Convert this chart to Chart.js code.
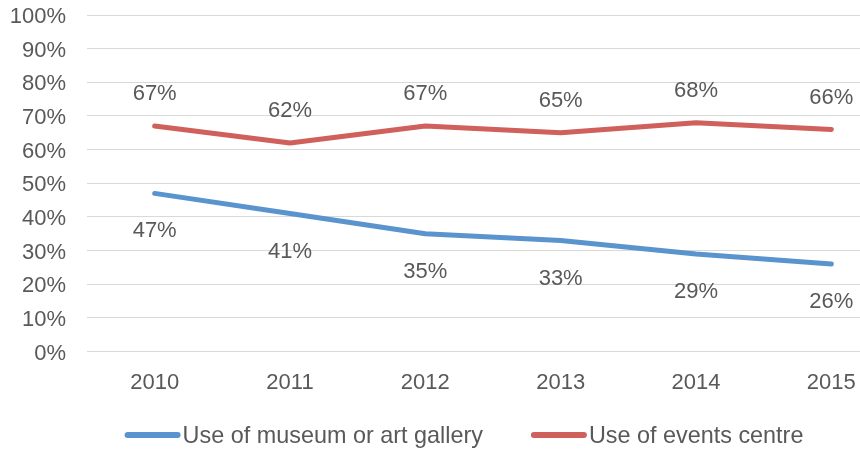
<!DOCTYPE html>
<html>
<head>
<meta charset="utf-8">
<script src="https://cdn.jsdelivr.net/npm/chart.js@4/dist/chart.umd.min.js"></script>
<style>
  html, body { margin: 0; padding: 0; background: #ffffff; overflow: hidden; }
  #wrap { width: 860px; height: 453px; overflow: hidden; position: relative; }
  #box { width: 930px; height: 453px; position: absolute; left: 0; top: 0; }
</style>
</head>
<body>
<div id="wrap"><div id="box"><canvas id="chart"></canvas></div></div>
<script>
const years = ['2010', '2011', '2012', '2013', '2014', '2015'];
const museumUse = [47, 41, 35, 33, 29, 26];
const eventsUse = [67, 62, 67, 65, 68, 66];
const seriesNames = ['Use of museum or art gallery', 'Use of events centre'];
const yTicks = [0, 10, 20, 30, 40, 50, 60, 70, 80, 90, 100];

const FONT = '"Liberation Sans", Arial, Helvetica, sans-serif';
const TEXT = '#595959';
const BLUE = '#5a94ce';
const RED = '#cf605b';

// Percentage labels: above the red line, below the blue one
const valueLabels = {
  id: 'valueLabels',
  afterDatasetsDraw(chart) {
    const ctx = chart.ctx;
    ctx.save();
    ctx.font = '22px ' + FONT;
    ctx.fillStyle = TEXT;
    ctx.textAlign = 'center';
    ctx.textBaseline = 'middle';
    chart.data.datasets.forEach((ds, i) => {
      const meta = chart.getDatasetMeta(i);
      meta.data.forEach((pt, j) => {
        ctx.fillText(ds.data[j] + '%', pt.x, pt.y + ds.labelOffset);
      });
    });
    ctx.restore();
  }
};

// Legend: short thick line swatch followed closely by the series name
const lineLegend = {
  id: 'lineLegend',
  afterDraw(chart) {
    const ctx = chart.ctx;
    ctx.save();
    ctx.font = '23.4px ' + FONT;
    const swatch = 56, gap = 2, itemGap = 48;
    const items = chart.data.datasets.map(ds => ({
      label: ds.label, color: ds.borderColor, w: ctx.measureText(ds.label).width
    }));
    const total = items.reduce((s, it) => s + swatch + gap + it.w, 0) + itemGap * (items.length - 1);
    let x = chart.width / 2 - 1 - total / 2;
    const y = 437;
    items.forEach(it => {
      ctx.strokeStyle = it.color;
      ctx.lineWidth = 6;
      ctx.lineCap = 'round';
      ctx.beginPath();
      ctx.moveTo(x + 3, y - 2);
      ctx.lineTo(x + swatch - 3, y - 2);
      ctx.stroke();
      ctx.fillStyle = TEXT;
      ctx.textAlign = 'left';
      ctx.textBaseline = 'middle';
      ctx.fillText(it.label, x + swatch + gap, y);
      x += swatch + gap + it.w + itemGap;
    });
    ctx.restore();
  }
};

new Chart(document.getElementById('chart'), {
  type: 'line',
  data: {
    labels: years,
    datasets: [
      { label: seriesNames[0], data: museumUse, borderColor: BLUE, backgroundColor: BLUE, labelOffset: 38 },
      { label: seriesNames[1], data: eventsUse, borderColor: RED, backgroundColor: RED, labelOffset: -32 }
    ]
  },
  options: {
    responsive: true,
    maintainAspectRatio: false,
    animation: false,
    layout: { padding: { left: 0, right: 31, top: 15, bottom: 39 } },
    elements: {
      line: { borderWidth: 5, tension: 0, borderCapStyle: 'round', borderJoinStyle: 'round', fill: false },
      point: { radius: 0, hoverRadius: 0 }
    },
    plugins: {
      legend: { display: false },
      tooltip: { enabled: false },
      title: { display: false }
    },
    scales: {
      x: {
        offset: true,
        afterFit(scale) { scale.paddingLeft = 0; scale.paddingRight = 0; },
        grid: { display: false, drawTicks: false },
        border: { display: false },
        ticks: { color: TEXT, font: { family: FONT, size: 22 }, padding: 18, maxRotation: 0 }
      },
      y: {
        min: 0,
        max: 100,
        afterBuildTicks(scale) { scale.ticks = yTicks.map(v => ({ value: v })); },
        afterFit(scale) { scale.width = 87; scale.paddingTop = 0; scale.paddingBottom = 0; },
        grid: { color: '#d9d9d9', lineWidth: 1, drawTicks: false },
        border: { display: false },
        ticks: {
          color: TEXT,
          font: { family: FONT, size: 22 },
          padding: 21,
          labelOffset: 2,
          callback: v => v + '%'
        }
      }
    }
  },
  plugins: [valueLabels, lineLegend]
});
</script>
</body>
</html>
